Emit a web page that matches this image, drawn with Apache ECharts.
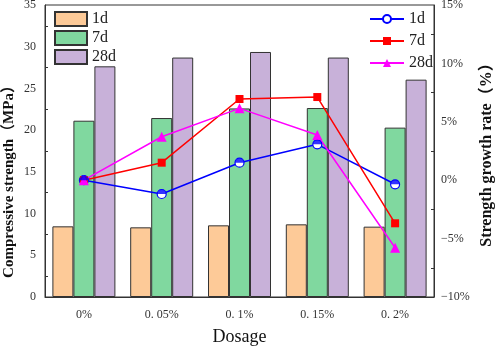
<!DOCTYPE html>
<html>
<head>
<meta charset="utf-8">
<script src="https://cdn.jsdelivr.net/npm/echarts@6/dist/echarts.min.js"></script>
<style>
  html, body { margin: 0; padding: 0; background: #fff; }
  #chart { width: 498px; height: 348px; }
</style>
</head>
<body>
<div id="chart"></div>
<script>
  var dosages = ['0%', '0. 05%', '0. 1%', '0. 15%', '0. 2%'];
  // compressive strength, MPa
  var strength1d = [8.47, 8.35, 8.59, 8.71, 8.43];
  var strength7d = [21.13, 21.45, 22.6, 22.65, 20.3];
  var strength28d = [27.65, 28.7, 29.37, 28.7, 26.05];
  // growth rate, %
  var growth1d = [0, -1.18, 1.5, 3.07, -0.35];
  var growth7d = [0, 1.5, 6.95, 7.12, -3.69];
  var growth28d = [0, 3.72, 6.15, 3.87, -5.78];

  var serif = '"Liberation Serif", "DejaVu Serif", "Noto Sans CJK SC", serif';

  var chartDom = document.getElementById('chart');
  var myChart = echarts.init(chartDom);

  function barSeries(name, data, color) {
    return {
      name: name,
      type: 'bar',
      data: data,
      barWidth: 21,
      barGap: '0%',
      itemStyle: { color: color, borderColor: '#333', borderWidth: 1 }
    };
  }
  function lineSeries(name, data, color, symbol, size) {
    return {
      name: name,
      type: 'line',
      yAxisIndex: 1,
      data: data,
      symbol: symbol,
      symbolSize: size,
      lineStyle: { color: color, width: 1.5 },
      itemStyle: { color: color },
      z: 5
    };
  }

  var s1d = lineSeries('1d ', growth1d, '#0000ff', 'circle', 9);
  s1d.itemStyle = { color: '#ffffff', borderColor: '#0000ff', borderWidth: 1.2 };

  myChart.setOption({
    animation: false,
    grid: {
      left: 45, right: 64, top: 5, bottom: 51,
      outerBoundsMode: 'none',
      show: true, borderColor: '#333', borderWidth: 1
    },
    legend: [{
      data: ['1d', '7d', '28d'],
      orient: 'vertical',
      left: 49, top: 6,
      icon: 'rect',
      itemWidth: 32, itemHeight: 14,
      itemGap: 3,
      textStyle: { fontFamily: serif, fontSize: 16, color: '#222' }
    }, {
      data: ['1d ', '7d ', '28d '],
      orient: 'vertical',
      left: 364, top: 6,
      itemWidth: 34, itemHeight: 10,
      itemGap: 6,
      textStyle: { fontFamily: serif, fontSize: 16, color: '#222' }
    }],
    xAxis: [{
      type: 'category',
      data: dosages,
      name: 'Dosage',
      nameLocation: 'middle',
      nameGap: 31,
      nameMoveOverlap: false,
      nameTextStyle: { fontFamily: serif, fontSize: 18, color: '#111' },
      axisLine: { lineStyle: { color: '#333' } },
      axisTick: { alignWithLabel: true, inside: true, length: 5, lineStyle: { color: '#333' } },
      axisLabel: { fontFamily: serif, fontSize: 12, color: '#333', margin: 12 }
    }, {
      type: 'category',
      data: dosages,
      position: 'bottom',
      axisLine: { show: false },
      axisTick: { inside: true, length: 3, lineStyle: { color: '#333' } },
      axisLabel: { show: false }
    }],
    yAxis: [{
      type: 'value',
      min: 0, max: 35, interval: 5,
      name: 'Compressive strength（MPa）',
      nameLocation: 'middle',
      nameGap: 28,
      nameMoveOverlap: false,
      nameTextStyle: { fontFamily: serif, fontSize: 15, fontWeight: 'bold', color: '#111', padding: [0, 54, 0, 0] },
      axisLine: { show: true, lineStyle: { color: '#333' } },
      axisTick: { inside: true, length: 5, lineStyle: { color: '#333' } },
      minorTick: { show: true, splitNumber: 2, length: 3, lineStyle: { color: '#333' } },
      splitLine: { show: false },
      axisLabel: { fontFamily: serif, fontSize: 12, color: '#333', margin: 9 }
    }, {
      type: 'value',
      min: -10, max: 15, interval: 5,
      name: 'Strength growth rate（%）',
      nameLocation: 'middle',
      nameGap: 45,
      nameRotate: 90,
      nameMoveOverlap: false,
      nameTextStyle: { fontFamily: serif, fontSize: 16, fontWeight: 'bold', color: '#111' },
      axisLine: { show: true, lineStyle: { color: '#333' } },
      axisTick: { inside: true, length: 5, lineStyle: { color: '#333' } },
      minorTick: { show: true, splitNumber: 2, length: 3, lineStyle: { color: '#333' } },
      splitLine: { show: false },
      axisLabel: {
        fontFamily: serif, fontSize: 12, color: '#333', margin: 7,
        formatter: function (v) { return (v < 0 ? '\u2212' + (-v) : v) + '%'; }
      }
    }],
    series: [
      barSeries('1d', strength1d, '#fdca98'),
      barSeries('7d', strength7d, '#80d89f'),
      barSeries('28d', strength28d, '#c8b1d9'),
      s1d,
      lineSeries('7d ', growth7d, '#ff0000', 'rect', 8),
      lineSeries('28d ', growth28d, '#ff00ff', 'triangle', 10),
      {
        // filled upper half of the 1d markers
        name: '1d half',
        type: 'scatter',
        yAxisIndex: 1,
        data: growth1d,
        symbol: 'path://M0,4 C0,1.8 1.8,0 4,0 C6.2,0 8,1.8 8,4 Z',
        symbolSize: [9, 4.5],
        symbolOffset: [0, -2.25],
        itemStyle: { color: '#0000ff' },
        z: 6
      }
    ]
  });
</script>
</body>
</html>
